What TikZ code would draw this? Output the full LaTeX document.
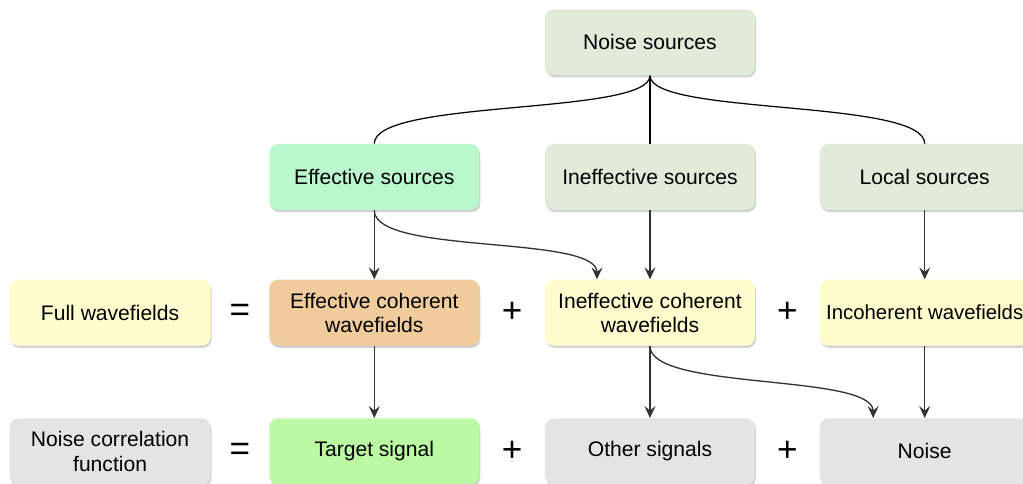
\documentclass[tikz,border=0pt]{standalone}
\usepackage{fontspec}
\setmainfont{Liberation Sans}
\definecolor{sage}{RGB}{224,235,218}
\definecolor{mint}{RGB}{186,247,205}
\definecolor{paleyellow}{RGB}{255,252,206}
\definecolor{tan}{RGB}{240,204,156}
\definecolor{lightgreen}{RGB}{187,249,163}
\definecolor{lightgray}{RGB}{228,228,228}
\definecolor{arrowgray}{RGB}{51,51,51}
\usetikzlibrary{arrows.meta, positioning, shadows, calc}
\tikzset{
	cell/.style={rectangle, rounded corners=5pt, draw=none, align=center, minimum width=4.2cm, minimum height=1.32cm, inner sep=2pt, font=\fontsize{12}{13.8}\selectfont, drop shadow={shadow xshift=0.6pt, shadow yshift=-1.2pt, opacity=0.18, fill=black}},
	srcbox/.style={cell, fill=sage},
	effsrcbox/.style={cell, fill=mint},
	wavebox/.style={cell, fill=paleyellow},
	effwavebox/.style={cell, fill=tan},
	targetbox/.style={cell, fill=lightgreen},
	sigbox/.style={cell, fill=lightgray},
	opsign/.style={font=\fontsize{20}{20}\selectfont, inner sep=0pt},
	link/.style={line width=0.7pt, draw=black},
	arrow/.style={-{Stealth[length=2.4mm, width=2.2mm, inset=0.9mm]}, line width=0.75pt, draw=arrowgray},
}
\begin{document}
\begin{tikzpicture}[node distance=1.36cm and 1.28cm]
	\useasboundingbox (-13,-6.14) rectangle (7.46,3.54);
	% sources
	\node[srcbox] (ineffsrc) at (0,0) {Ineffective sources};
	\node[srcbox, above=of ineffsrc] (noisesrc) {Noise sources};
	\node[effsrcbox, left=1.3cm of ineffsrc] (effsrc) {Effective sources};
	\node[srcbox, right=of ineffsrc] (localsrc) {Local sources};
	% wavefields
	\node[wavebox, below=1.38cm of ineffsrc] (ineffcoh) {Ineffective coherent\\wavefields};
	\node[effwavebox, left=1.3cm of ineffcoh] (effcoh) {Effective coherent\\wavefields};
	\node[wavebox, right=of ineffcoh, font=\fontsize{11.6}{13.8}\selectfont] (incoh) {Incoherent wavefields};
	\node[wavebox, minimum width=4.02cm, left=1.16cm of effcoh] (full) {Full wavefields};
	% signals
	\node[sigbox, below=1.44cm of ineffcoh] (other) {Other signals};
	\node[targetbox, left=1.3cm of other] (target) {Target signal};
	\node[sigbox, right=of other] (noise) {Noise};
	\node[sigbox, minimum width=4.02cm, left=1.16cm of target] (ncf) {Noise correlation\\function};
	% operators
	\node[opsign] (eqwave) at ($(full.east)!0.5!(effcoh.west)$) {=};
	\node[opsign] (pluswaveA) at ($(effcoh.east)!0.5!(ineffcoh.west)$) {+};
	\node[opsign] (pluswaveB) at ($(ineffcoh.east)!0.5!(incoh.west)$) {+};
	\node[opsign] (eqsig) at ($(ncf.east)!0.5!(target.west)$) {=};
	\node[opsign] (plussigA) at ($(target.east)!0.5!(other.west)$) {+};
	\node[opsign] (plussigB) at ($(other.east)!0.5!(noise.west)$) {+};
	\coordinate (ineffcohin) at ([xshift=-1.06cm]ineffcoh.north);
	\coordinate (noisein) at ([xshift=-1.03cm]noise.north);
	% connectors
	\draw[link] (noisesrc.south) .. controls +(0,-0.8) and +(0,0.9) .. (effsrc.north);
	\draw[link] (noisesrc) -- (ineffsrc);
	\draw[link] (noisesrc.south) .. controls +(0,-0.8) and +(0,0.9) .. (localsrc.north);
	\draw[arrow] (effsrc) -- (effcoh);
	\draw[arrow] (effsrc.south) .. controls +(0,-0.9) and +(0,0.9) .. (ineffcohin);
	\draw[arrow] (ineffsrc) -- (ineffcoh);
	\draw[arrow] (localsrc) -- (incoh);
	\draw[arrow] (effcoh) -- (target);
	\draw[arrow] (ineffcoh) -- (other);
	\draw[arrow] (ineffcoh.south) .. controls +(0,-0.9) and +(0,0.9) .. (noisein);
	\draw[arrow] (incoh) -- (noise);
\end{tikzpicture}
\end{document}
